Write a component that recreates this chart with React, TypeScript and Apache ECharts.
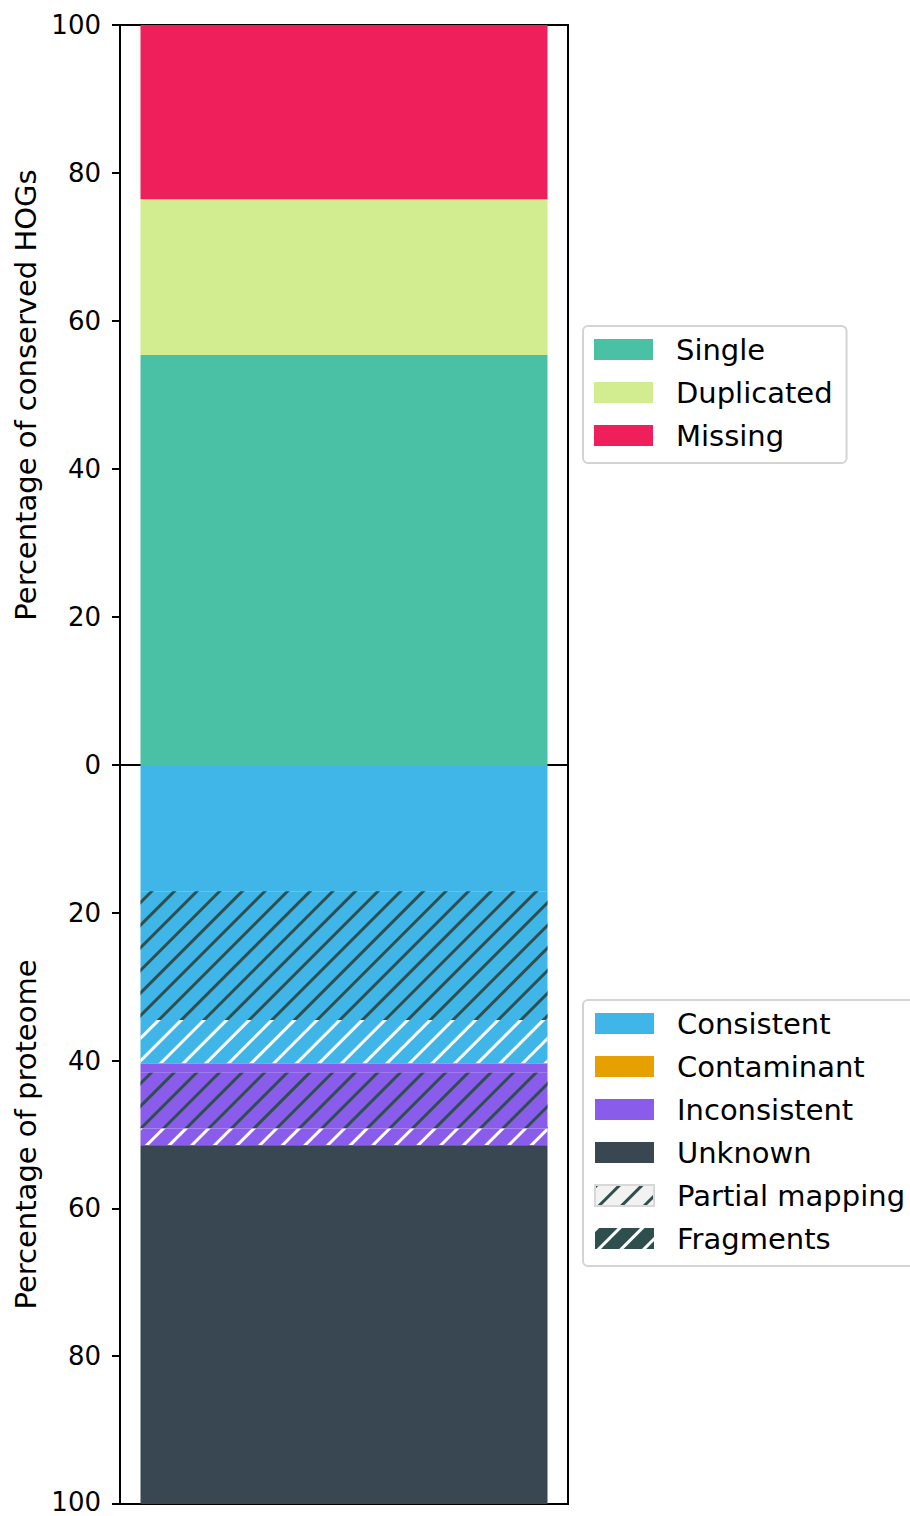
import React, { useEffect, useRef } from "react";
import * as echarts from "echarts";

// ---- data ----
const hogNames = ["Single", "Duplicated", "Missing"];
const hogValues = [55.4, 21.05, 23.55];

const proteomeLegend = ["Consistent", "Contaminant", "Inconsistent", "Unknown", "Partial mapping", "Fragments"];
const segmentNames = [
  "Consistent",
  "Consistent fragments",
  "Consistent partial mapping",
  "Contaminant",
  "Inconsistent",
  "Inconsistent fragments",
  "Inconsistent partial mapping",
  "Unknown",
];
const segmentValues = [17.1, 17.4, 5.9, 0, 1.25, 7.55, 2.25, 48.55];
const segmentBase = ["Consistent", "Consistent", "Consistent", "Contaminant", "Inconsistent", "Inconsistent", "Inconsistent", "Unknown"];
const segmentHatch = ["", "Fragments", "Partial mapping", "", "", "Fragments", "Partial mapping", ""];
const yTicks = [0, 20, 40, 60, 80, 100];

const COLORS: Record<string, string> = {
  Single: "#4ac0a4",
  Duplicated: "#d1ed8f",
  Missing: "#ef1f5c",
  Consistent: "#40b6e8",
  Contaminant: "#e6a000",
  Inconsistent: "#8a5ceb",
  Unknown: "#384752",
};
const HATCH_DARK = "#2f4f4f";
const FONT = "DejaVu Sans";

function hatchDecal(color: string) {
  return {
    symbol: "rect",
    symbolSize: 1,
    color,
    dashArrayX: [1, 0],
    dashArrayY: [2.6, 12.8],
    rotation: -Math.PI / 4,
  };
}

export default function App() {
  const ref = useRef<HTMLDivElement>(null);
  useEffect(() => {
    if (!ref.current) return;
    const chart = echarts.init(ref.current, undefined, { renderer: "svg" });
    const gridLeft = 120;
    const gridWidth = 448;
    const yAxisCommon = (name: string, inverse: boolean, gridIndex: number) => ({
      type: "value",
      gridIndex,
      min: yTicks[0],
      max: yTicks[yTicks.length - 1],
      interval: 20,
      inverse,
      name,
      nameLocation: "middle",
      nameGap: 80,
      nameTextStyle: { fontFamily: FONT, fontSize: 29, color: "#000" },
      axisLine: { show: true, lineStyle: { color: "#000", width: 2 } },
      axisTick: { show: true, length: 8, lineStyle: { color: "#000", width: 2 } },
      axisLabel: {
        fontFamily: FONT,
        fontSize: 26,
        lineHeight: 20,
        color: "#000",
        margin: 19,
        showMinLabel: gridIndex === 0,
        formatter: (v: number) => (gridIndex === 1 && v === yTicks[yTicks.length - 1] ? `{edge|${v}}` : `${v}`),
        rich: { edge: { fontFamily: FONT, fontSize: 26, lineHeight: 16, color: "#000", padding: [0, 0, 4, 0] } },
      },
      splitLine: { show: false },
    });
    const xAxisCommon = (gridIndex: number) => ({
      type: "category",
      gridIndex,
      data: ["proteome"],
      axisLine: { show: false },
      axisTick: { show: false },
      axisLabel: { show: false },
    });

    const topSeries = hogNames.map((n, i) => ({
      type: "bar",
      name: n,
      xAxisIndex: 0,
      yAxisIndex: 0,
      stack: "hog",
      barWidth: 407,
      data: [hogValues[i]],
      itemStyle: { color: COLORS[n] },
    }));

    const bottomSeries: any[] = segmentNames.map((n, i) => {
      const base = segmentBase[i];
      const hatch = segmentHatch[i];
      const itemStyle: any = { color: COLORS[base] };
      if (hatch === "Fragments") itemStyle.decal = hatchDecal(HATCH_DARK);
      if (hatch === "Partial mapping") itemStyle.decal = hatchDecal("#ffffff");
      return {
        type: "bar",
        name: hatch ? n : base,
        xAxisIndex: 1,
        yAxisIndex: 1,
        stack: "prot",
        barWidth: 407,
        data: [segmentValues[i]],
        itemStyle,
      };
    });
    // legend-only entries for hatch types
    bottomSeries.push({
      type: "bar",
      name: "Partial mapping",
      xAxisIndex: 1,
      yAxisIndex: 1,
      stack: "prot",
      barWidth: 407,
      data: [],
      itemStyle: { color: "#f2f2f2", borderColor: "#d8d8d8", borderWidth: 1, decal: hatchDecal(HATCH_DARK) },
    });
    bottomSeries.push({
      type: "bar",
      name: "Fragments",
      xAxisIndex: 1,
      yAxisIndex: 1,
      stack: "prot",
      barWidth: 407,
      data: [],
      itemStyle: { color: HATCH_DARK, decal: hatchDecal("#ffffff") },
    });

    const legendCommon = {
      orient: "vertical",
      left: 583,
      itemWidth: 59,
      itemHeight: 21,
      itemGap: 14,
      padding: [9, 14, 13, 11],
      borderColor: "#d4d4d4",
      borderWidth: 2,
      borderRadius: 5,
      backgroundColor: "#fff",
      selectedMode: false,
      icon: "rect",
      textStyle: { fontFamily: FONT, fontSize: 29, color: "#000", padding: [0, 0, 0, 18] },
    };

    chart.setOption({
      animation: false,
      backgroundColor: "#fff",
      grid: [
        { left: gridLeft, top: 25, width: gridWidth, height: 740, show: true, borderColor: "#000", borderWidth: 2, backgroundColor: "transparent", containLabel: false, outerBoundsMode: "none" },
        { left: gridLeft, top: 765, width: gridWidth, height: 739, show: true, borderColor: "#000", borderWidth: 2, backgroundColor: "transparent", containLabel: false, outerBoundsMode: "none" },
      ],
      xAxis: [xAxisCommon(0), xAxisCommon(1)],
      yAxis: [
        yAxisCommon("Percentage of conserved HOGs", false, 0),
        yAxisCommon("Percentage of proteome", true, 1),
      ],
      legend: [
        { ...legendCommon, top: 326, data: hogNames },
        { ...legendCommon, top: 1000, data: proteomeLegend },
      ],
      series: [...topSeries, ...bottomSeries],
    });
    return () => chart.dispose();
  }, []);
  return <div ref={ref} style={{ position: "absolute", left: 0, top: 0, width: 910, height: 1516 }} />;
}
